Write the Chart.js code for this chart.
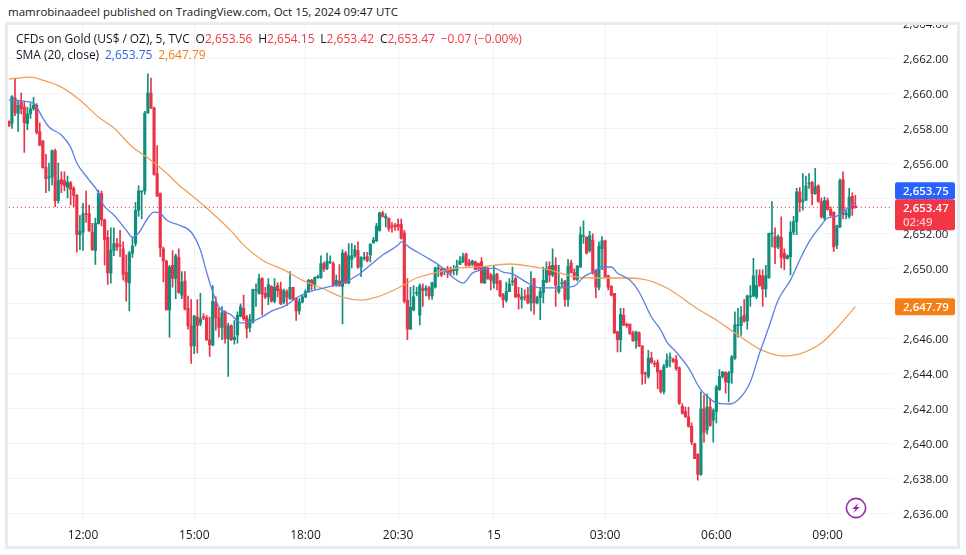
<!DOCTYPE html>
<html>
<head>
<meta charset="utf-8">
<title>CFDs on Gold</title>
<script src="https://cdn.jsdelivr.net/npm/chart.js@4"></script>
<style>
  html, body { margin: 0; padding: 0; background: #fff; }
  body { width: 966px; height: 555px; position: relative; overflow: hidden; font-family: "Open Sans", sans-serif; color: #131722; }
  #chart { position: absolute; left: 0; top: 0; }
  #caption { position: absolute; left: 0; top: 0; width: 966px; height: 22px; background: #fff; font-size: 11.5px; line-height: 23px; padding-left: 8px; box-sizing: border-box; }
  #frame { position: absolute; left: 5px; top: 22px; width: 949px; height: 521px; border: 3px solid #e9ebf0; pointer-events: none; }
  .legend { position: absolute; left: 16px; font-size: 12px; line-height: 16px; white-space: nowrap; word-spacing: -0.2px; }
  #legend1 { top: 31px; }
  #legend2 { top: 47px; }
  .up { color: #f23645; }
  #bolt { position: absolute; left: 845px; top: 497px; }
</style>
</head>
<body>
<canvas id="chart" width="966" height="555"></canvas>
<div id="caption">mamrobinaadeel published on TradingView.com, Oct 15, 2024 09:47 UTC</div>
<div id="frame"></div>
<div class="legend" id="legend1">CFDs on Gold (US$ / OZ), 5, TVC&nbsp; O<span class="up">2,653.56</span>&nbsp; H<span class="up">2,654.15</span>&nbsp; L<span class="up">2,653.42</span>&nbsp; C<span class="up">2,653.47</span>&nbsp; <span class="up">−0.07 (−0.00%)</span></div>
<div class="legend" id="legend2">SMA (20, close)&nbsp; <span style="color:#2f62e6">2,653.75</span>&nbsp; <span style="color:#ef7f1a">2,647.79</span></div>
<svg id="bolt" width="22" height="22" viewBox="0 0 22 22">
  <circle cx="11" cy="11" r="9.6" fill="#fff" stroke="#9c27b0" stroke-width="1.6"/>
  <path d="M13.6 6 L7.2 12 L10.4 12 L8.4 16 L14.8 10 L11.6 10 Z" fill="#9c27b0"/>
</svg>
<script>
'use strict';

const GREEN = '#0f8f7c';
const RED   = '#ea3348';

const opens = [
  2658.4,2658.26,2659.73,2658.84,2659.5,2659.2,2658.25,2658.8,2659.1,2659.3,
  2657.8,2657.25,2655.75,2655.15,2655.2,2656.7,2653.85,2655.05,2655.0,2654.6,
  2654.85,2654.55,2654.15,2651.9,2652.05,2653.1,2653.1,2652.05,2651.0,2652.55,
  2654.25,2652.75,2651.75,2649.7,2651.0,2651.4,2651.3,2651.1,2649.75,2649.15,
  2650.85,2651.4,2653.3,2654.35,2654.4,2658.85,2660,2659.15,2655.4,2654.25,
  2651.1,2650.4,2647.6,2650.15,2649.4,2650.6,2648.45,2649.25,2647.7,2646.7,
  2645.55,2647.2,2646.85,2647.2,2647.15,2645.9,2645.6,2648.05,2647.15,2646.6,
  2647.5,2645.95,2646.7,2645.9,2646.17,2647.25,2647.7,2647.2,2646.6,2646.9,
  2648.7,2648.55,2649.4,2648.55,2648.35,2648.95,2648.1,2649,2648.8,2648.05,
  2648.65,2648.25,2648.9,2648.25,2647.55,2648.05,2648.35,2648.65,2649.3,2649.05,
  2649.45,2649.45,2650.25,2649.98,2650.3,2650.25,2649,2649.25,2648.95,2650.85,
  2649.15,2650.5,2650.7,2651,2650.05,2650.55,2650.65,2650.75,2651.45,2651.55,
  2652.15,2653.15,2652.85,2652.85,2652.4,2652.45,2652.5,2652.5,2652,2648.15,
  2646.5,2647.6,2648.55,2647.3,2648.85,2648.75,2648.85,2648.4,2648.9,2649.95,
  2649.95,2649.85,2649.95,2649.95,2649.85,2649.85,2650.2,2650.35,2650.8,2650.35,
  2650.2,2650.35,2650.25,2650.35,2649.15,2650,2649.6,2649.15,2649.65,2649.25,
  2648.45,2648.15,2648.65,2649.2,2649.4,2648.5,2648.2,2648.35,2648.45,2648,
  2649.4,2648,2648.3,2648.6,2649.2,2650.1,2649.6,2650.15,2648.65,2649.1,
  2649.25,2648.2,2650.3,2649.75,2649.35,2650.05,2651.8,2651.75,2651,2651.6,
  2649.85,2648.9,2651.1,2651.55,2649.55,2648.95,2648.55,2646.35,2645.9,2647.3,
  2646.8,2646.8,2646.3,2645.85,2646.3,2645.55,2644,2643.8,2644.85,2644.55,
  2644.6,2644.15,2642.95,2644.4,2644.85,2644.8,2644.75,2644.3,2642.1,2641.8,
  2641.5,2640.95,2639.95,2639.35,2638.2,2641.95,2640.75,2642.05,2641.3,2641.8,
  2643.05,2643.8,2644.05,2643.45,2644,2644.85,2646.7,2646.7,2647.3,2646.98,
  2648.35,2648.4,2648.35,2649.6,2649.55,2648.8,2649.45,2651.95,2651.8,2651.2,
  2651.75,2650.85,2650.55,2650.65,2652.05,2652.65,2654.35,2653.8,2653.88,2654.8,
  2654.9,2654.25,2654.7,2653.8,2652.85,2653.85,2653.35,2653.2,2651.3,2652.35,
  2655.05,2653.05,2652.95,2654.1,2653.56
];

const highs = [
  2658.4,2659.85,2660.84,2659.6,2660,2659.5,2659.2,2659.4,2659.75,2659.4,
  2658.3,2657.3,2656.5,2656,2656.75,2656.8,2656,2655.5,2655.5,2655.25,
  2654.95,2654.65,2654.2,2653,2653.7,2654.4,2653.6,2652.55,2652.85,2654.45,
  2654.4,2652.8,2652.15,2652.3,2652.3,2651.7,2652.15,2651.5,2650.75,2650.95,
  2651.75,2653.75,2654.7,2654.4,2658.95,2661.1,2660.85,2659.2,2657,2654.3,
  2651.2,2650.45,2650.15,2651,2650.8,2651.1,2649.8,2649.8,2648.4,2648.2,
  2647.3,2648.2,2648.55,2647.4,2647.3,2647.2,2649,2648.35,2647.7,2647.8,
  2647.55,2646.85,2646.75,2647,2647.5,2647.95,2648.45,2647.3,2647.35,2648.8,
  2649.1,2649.65,2649.45,2648.9,2649.4,2649,2649.4,2649.15,2649.2,2648.8,
  2648.75,2649.8,2648.9,2648.3,2648.25,2648.45,2648.75,2649.35,2649.35,2649.5,
  2649.6,2650.7,2650.35,2650.85,2650.7,2650.35,2649.6,2650.2,2651.05,2650.95,
  2651.4,2651.4,2651.3,2651.5,2650.65,2650.9,2650.9,2651.4,2651.75,2652.55,
  2653.2,2653.25,2653.1,2652.85,2652.6,2652.55,2652.8,2652.8,2652.15,2649.4,
  2648.9,2649,2648.9,2649.1,2649.1,2649,2648.95,2649.2,2650.05,2650.15,
  2650,2650,2650.1,2650.05,2650.15,2650.45,2650.65,2650.85,2650.85,2650.5,
  2650.45,2650.4,2650.3,2650.6,2650.1,2650.05,2649.7,2650.15,2649.7,2649.3,
  2648.55,2649.2,2649.4,2650.05,2649.5,2648.9,2648.85,2648.75,2648.9,2649.8,
  2649.4,2648.4,2648.9,2650.05,2650.35,2650.35,2651.1,2650.6,2650.15,2649.4,
  2649.3,2650.5,2650.45,2649.95,2650.15,2652.35,2652.7,2651.8,2652.1,2651.95,
  2649.9,2651.5,2651.8,2651.6,2649.6,2649,2648.55,2646.4,2647.7,2647.7,
  2646.85,2646.8,2646.4,2646.4,2646.35,2645.55,2644.05,2645.3,2645.2,2644.7,
  2644.75,2644.15,2644.5,2645.1,2645.15,2644.85,2645,2644.35,2642.25,2642.05,
  2642.05,2641.15,2640,2639.4,2642.93,2642.75,2642.8,2642.55,2641.95,2643.3,
  2644.2,2644.1,2644.05,2644.1,2645,2647.5,2647.7,2647.8,2648.2,2648.45,
  2649,2650.55,2649.9,2649.9,2649.9,2650.15,2652,2653.8,2652.3,2651.9,
  2652.93,2651.1,2650.75,2652.65,2652.95,2654.55,2654.6,2655.4,2655.25,2655.4,
  2654.95,2655.7,2654.75,2654,2654.05,2654,2653.5,2653.2,2652.45,2655.1,
  2655.5,2653.3,2654.55,2654.3,2654.15
];

const lows = [
  2658.1,2657.98,2658.7,2657.8,2658.8,2656.6,2657.9,2658.55,2659,2657.65,
  2657,2655.7,2654.3,2654.4,2654.75,2653.5,2653.7,2654.3,2654.4,2654,
  2653.6,2653.5,2650.9,2651.05,2651,2652.6,2652.1,2651,2650.2,2652.5,
  2652.4,2650.17,2649.07,2649.13,2650.7,2651,2650.65,2649.3,2648.1,2647.55,
  2650.6,2651.25,2652.95,2652.8,2654.2,2658.85,2659.1,2655.3,2654.1,2650.65,
  2649.2,2647.6,2646.05,2648.9,2648.25,2648.55,2648.25,2647.6,2646.5,2644.55,
  2645.1,2645.15,2646.7,2647.05,2645.85,2644.95,2645.55,2646.45,2646.05,2645.9,
  2645.7,2643.8,2645.85,2645.65,2645.7,2647.2,2647,2646,2646.35,2646.85,
  2647.8,2648.5,2647.3,2648.25,2647.9,2648.05,2648,2648.35,2647.9,2647.95,
  2647.85,2648.2,2648.15,2647,2647.35,2648,2648.3,2648.6,2648.75,2648.8,
  2649.4,2649.4,2649.8,2649.9,2650.25,2648.95,2648.95,2648.95,2646.8,2649.1,
  2649.1,2650,2650.6,2649.98,2649.5,2650.45,2650.35,2650.35,2651.4,2651.5,
  2652.1,2652.9,2652.35,2652.1,2652.05,2652.15,2652.15,2651.65,2648,2645.9,
  2646.5,2647.55,2648.4,2646.75,2647.8,2648.4,2648.2,2648.2,2648.85,2649.5,
  2649.5,2649.6,2649.45,2649.6,2649.6,2649.6,2650.2,2650.3,2650.1,2650.1,
  2650.15,2649.9,2649.9,2649.15,2649.1,2649.35,2648.75,2648.85,2648.75,2648.35,
  2647.75,2648.05,2648.65,2649,2648.3,2647.65,2647.7,2648.15,2647.95,2647.55,
  2647.35,2647.95,2647.05,2648,2649.15,2649.2,2649.5,2647.8,2648.55,2648.9,
  2647.8,2647.8,2649.7,2649.3,2649.25,2650.05,2651.4,2650.8,2650.9,2649.65,
  2648.3,2648.75,2649.9,2649.45,2648.75,2648.4,2646.25,2645.2,2645.2,2646.7,
  2646.6,2646.2,2645.8,2645.4,2645.5,2643.35,2643.4,2643.7,2644.55,2644.35,
  2643.1,2642.85,2642.8,2644.3,2644.35,2644.6,2644.15,2642.2,2641.65,2641.45,
  2640.9,2639.9,2639.1,2637.88,2638.15,2640.05,2640.5,2640.95,2640.05,2641.15,
  2643,2643.7,2642.85,2642.35,2643.4,2644.78,2646.05,2646.15,2646.9,2646.5,
  2647.8,2648.35,2648.25,2648.95,2647.8,2648.35,2649.4,2651.2,2650.25,2651.1,
  2650,2649.9,2650.5,2649.6,2651.9,2651.9,2653.2,2653.3,2653.85,2654.55,
  2653.6,2654.2,2653.75,2652.85,2652.75,2653.3,2652.95,2650.95,2651.1,2652.3,
  2652.8,2652.8,2652.85,2653,2653.42
];

const closes = [
  2658.1,2659.79,2658.88,2659.3,2659.1,2658.3,2658.8,2659.1,2659.3,2657.75,
  2657,2655.73,2655.1,2655.2,2656.7,2653.85,2655,2654.8,2654.7,2654.9,
  2654.5,2654.15,2651.92,2652.1,2653.1,2653.05,2652.1,2651.05,2652.55,2654.25,
  2652.75,2651.64,2649.73,2651.03,2651.4,2651.2,2651.25,2649.65,2649.2,2650.85,
  2651.25,2653.3,2654.4,2654.4,2658.85,2660,2659.15,2655.35,2654.1,2651.15,
  2650.4,2647.6,2650.05,2649.4,2650.7,2648.6,2649.2,2647.65,2646.7,2645.55,
  2647.25,2646.7,2647.1,2647.15,2645.9,2645.6,2648.1,2647.15,2646.6,2647.45,
  2645.95,2646.7,2645.9,2646.05,2647.3,2647.8,2647.1,2646.55,2647.05,2648.78,
  2648.75,2649.4,2648.5,2648.35,2649.05,2648.1,2648.9,2648.7,2647.95,2648.7,
  2648.35,2648.9,2648.2,2647.55,2648.05,2648.35,2648.65,2649.3,2649,2649.45,
  2649.5,2650.25,2649.95,2650.4,2650.35,2649,2649.3,2649,2650.85,2649.15,
  2650.7,2650.7,2651.05,2650.05,2650.6,2650.6,2650.4,2651.35,2651.6,2652.4,
  2653.15,2652.95,2652.95,2652.25,2652.35,2652.35,2652.35,2651.7,2648.1,2646.5,
  2647.75,2648.35,2648.6,2649,2648.7,2648.85,2648.4,2649.15,2650,2650,
  2649.6,2649.9,2649.75,2649.75,2649.9,2650.1,2650.4,2650.65,2650.15,2650.15,
  2650.4,2649.9,2649.98,2649.15,2650.05,2649.4,2649.3,2649.6,2649.1,2648.4,
  2648.2,2648.65,2649.1,2649.25,2648.35,2648.35,2648.35,2648.3,2648,2649,
  2648,2648.3,2648.65,2649.3,2649.97,2649.6,2650.15,2649,2648.95,2649.15,
  2648.2,2650.1,2649.75,2649.35,2650.1,2651.9,2651.85,2650.85,2651.85,2649.7,
  2648.9,2651.25,2651.55,2649.5,2648.9,2648.45,2646.3,2645.9,2647.35,2646.75,
  2646.7,2646.25,2645.85,2646.35,2645.55,2643.95,2643.95,2644.85,2644.6,2644.5,
  2644.05,2642.95,2644.4,2644.75,2644.9,2644.65,2644.25,2642.26,2641.7,2641.5,
  2640.95,2640.05,2639.1,2638.2,2641.95,2640.6,2642.05,2641,2641.85,2643.2,
  2643.8,2644.05,2643.5,2644,2644.93,2646.75,2646.75,2647.2,2646.95,2648.4,
  2648.4,2649.55,2649,2649,2648.8,2649.55,2651.98,2651.98,2651.18,2651.8,
  2650.6,2650.55,2650.7,2652.05,2652.65,2654.35,2653.75,2653.9,2654.7,2654.85,
  2654.25,2654.65,2653.8,2652.93,2653.85,2653.35,2653,2651.2,2652.4,2655,
  2653.05,2653.1,2654.05,2653.4,2653.47
];

// SMA readings: bar number, then value at that bar
const smaFastBars = [0,8,9,11,13,17,20,22,26,29,30,34,38,40,42,45,47,49,51,55,59,62,64,66,68,72,75,79,82,85,90,93,97,103,108,113,117,121,126,127,130,135,140,144,147,150,153,157,160,163,168,172,177,183,186,189,192,195,197,201,204,208,211,213,216,220,224,226,229,233,236,240,243,246,249,253,256,259,263,265,268,271,274];
const smaFast = [2659.6,2659.43,2659.2,2658.57,2658.06,2657.6,2656.91,2656,2655.03,2654.29,2653.77,2653.03,2652.17,2651.77,2652,2652.86,2653.2,2653.14,2652.74,2652.46,2652.06,2651.03,2649.77,2648.63,2647.77,2647.31,2646.86,2646.97,2647.2,2647.54,2647.89,2648.29,2648.63,2648.91,2649.14,2649.6,2650.17,2650.74,2651.31,2651.49,2651.14,2650.63,2650.06,2649.43,2649.14,2649.71,2649.89,2650,2649.77,2649.66,2649.14,2648.86,2648.86,2648.97,2649.49,2649.77,2650.06,2650.06,2649.71,2649.31,2648.63,2647.2,2646.46,2645.77,2645.2,2644.29,2643.03,2642.69,2642.29,2642.23,2642.46,2643.49,2645.14,2646.63,2648.17,2649.31,2650.46,2651.49,2652.46,2652.86,2652.97,2653.37,2653.75];

const smaSlowBars = [0,7,11,17,23,29,34,40,45,51,55,61,64,72,76,82,89,95,102,108,114,119,126,132,139,145,152,162,170,175,182,189,198,205,213,223,229,236,243,251,256,263,268,274];
const smaSlow = [2660.8,2660.91,2660.74,2660.34,2659.6,2658.63,2658,2656.91,2656.29,2655.43,2654.74,2653.89,2653.43,2652.11,2651.31,2650.46,2649.89,2649.31,2648.8,2648.34,2648.17,2648.34,2648.86,2649.43,2649.77,2650,2650.06,2650.23,2650.06,2649.89,2649.54,2649.43,2649.43,2649.37,2648.86,2647.66,2647.03,2646.17,2645.37,2644.97,2645.09,2645.71,2646.57,2647.79];

const tickBars  = [24, 60, 96, 126, 157, 193, 229, 265];
const tickNames = ['12:00', '15:00', '18:00', '20:30', '15', '03:00', '06:00', '09:00'];

const BAR_SLOTS = 287;   // includes the empty run to the right of the last bar
const Y_MIN = 2635.6;
const Y_MAX = 2664.06;

const lastClose = closes[closes.length - 1];
const lastFast  = smaFast[smaFast.length - 1];
const lastSlow  = smaSlow[smaSlow.length - 1];

const labels = Array.from({ length: BAR_SLOTS }, (_, i) => String(i));
const barColors = opens.map((o, i) => closes[i] >= o ? GREEN : RED);
const fmt = v => v.toLocaleString('en-US', { minimumFractionDigits: 2, maximumFractionDigits: 2 });
const points = (bars, vals) => bars.map((b, i) => ({ x: String(b), y: vals[i] }));

const priceTags = {
  id: 'priceTags',
  afterDraw(chart) {
    const c = chart.ctx;
    const y = chart.scales.y;
    const x0 = 895, w = 60;
    const redTop = y.getPixelForValue(lastClose) - 8;
    const tag = (top, h, color) => {
      c.fillStyle = color;
      c.beginPath();
      c.roundRect(x0, top, w, h, 2);
      c.fill();
    };
    const text = (str, cy, color, weight) => {
      c.fillStyle = color;
      c.font = weight + ' 11.5px "Open Sans", sans-serif';
      c.textAlign = 'left';
      c.textBaseline = 'middle';
      c.fillText(str, x0 + 8, cy);
    };
    c.save();
    tag(redTop - 17, 17, '#2962ff');
    text(fmt(lastFast), redTop - 8, '#fff', '600');
    tag(redTop, 31, '#f23645');
    text(fmt(lastClose), redTop + 9, '#fff', '600');
    text('02:49', redTop + 23, '#ffc4ca', '600');
    const slowY = y.getPixelForValue(lastSlow);
    tag(slowY - 8.5, 17, '#f57f17');
    text(fmt(lastSlow), slowY + 1, '#fff', '600');
    c.restore();
  },
};

new Chart(document.getElementById('chart'), {
  data: {
    labels,
    datasets: [
      {
        type: 'line',
        data: [{ x: labels[0], y: lastClose }, { x: labels[BAR_SLOTS - 1], y: lastClose }],
        borderColor: '#d81e2e',
        borderWidth: 1,
        borderDash: [1, 3],
        pointRadius: 0,
        order: 0,
      },
      {
        type: 'line',
        data: points(smaFastBars, smaFast),
        borderColor: '#5a7fe6',
        borderWidth: 1.3,
        pointRadius: 0,
        cubicInterpolationMode: 'monotone',
        order: 1,
      },
      {
        type: 'line',
        data: points(smaSlowBars, smaSlow),
        borderColor: '#f0a05a',
        borderWidth: 1.3,
        pointRadius: 0,
        cubicInterpolationMode: 'monotone',
        order: 2,
      },
      {
        type: 'bar',
        data: opens.map((o, i) => [o, closes[i]]),
        backgroundColor: barColors,
        barThickness: 2.5,
        minBarLength: 1,
        grouped: false,
        order: 3,
      },
      {
        type: 'bar',
        data: lows.map((l, i) => [l, highs[i]]),
        backgroundColor: barColors,
        barThickness: 1,
        grouped: false,
        order: 4,
      },
    ],
  },
  options: {
    responsive: false,
    animation: false,
    events: [],
    layout: { padding: { left: 7.3, top: 22, right: 0, bottom: 0 } },
    plugins: {
      legend: { display: false },
      tooltip: { enabled: false },
    },
    scales: {
      x: {
        offset: true,
        border: { display: false },
        grid: { color: '#f0f3fa', offset: false, drawTicks: false },
        afterFit: s => { s.height = 35; },
        ticks: {
          autoSkip: false,
          maxRotation: 0,
          padding: 8,
          color: '#131722',
          font: ctx => ({
            size: 12,
            family: '"Open Sans", sans-serif',
            weight: ctx.index === tickBars[4] ? 'bold' : 'normal',
          }),
          callback: (v, i) => {
            const k = tickBars.indexOf(i);
            return k < 0 ? null : tickNames[k];
          },
        },
      },
      y: {
        position: 'right',
        min: Y_MIN,
        max: Y_MAX,
        border: { display: false },
        grid: { color: '#f0f3fa', drawTicks: false },
        afterFit: s => { s.width = 72; },
        ticks: {
          stepSize: 2,
          includeBounds: false,
          padding: 9,
          color: '#131722',
          // blank first line plus a tight line height nudges the text down onto the grid line
          font: { size: 11.5, family: '"Open Sans", sans-serif', lineHeight: '4px' },
          callback: v => ['', fmt(v)],
        },
      },
    },
  },
  plugins: [priceTags],
});
</script>
</body>
</html>
